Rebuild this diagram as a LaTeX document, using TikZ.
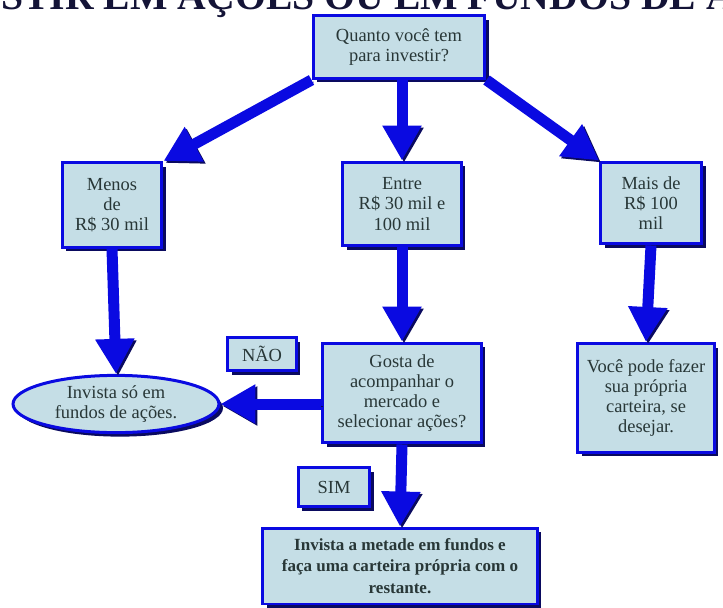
\documentclass[tikz,border=0pt]{standalone}
\usepackage{fontspec}
\setmainfont{Liberation Serif}
\usepackage{tikz}
\usetikzlibrary{arrows.meta,positioning,calc,shapes.geometric,shadows}
\definecolor{flblue}{RGB}{10,10,225}
\definecolor{flnavy}{RGB}{10,10,95}
\definecolor{flfill}{RGB}{197,222,230}
\definecolor{fltext}{RGB}{40,55,55}
\definecolor{fltitle}{RGB}{20,20,55}

\begin{document}
\begin{tikzpicture}[x=0.02cm,y=-0.02cm,
  box/.style={draw=flblue,line width=.06cm,fill=flfill,text=fltext,align=center,
    inner sep=1pt,font=\fontsize{10.5}{11.5}\selectfont,
    drop shadow={shadow xshift=.08cm,shadow yshift=-.08cm,fill=flnavy,opacity=1}},
  arr/.style={line width=.22cm,draw=flblue,-{Triangle[width=.74cm,length=.7cm]},
    preaction={draw=flnavy,transform canvas={shift={(.04cm,-.04cm)}}}}]
\useasboundingbox (0,0) rectangle (723,608);
\clip (0,0) rectangle (723,608);
\fill[white] (0,0) rectangle (723,608);
% title, cut off at the top
\node[anchor=base west,inner sep=0,text=fltitle,font=\fontsize{22.6}{22}\selectfont\bfseries] (title) at (1,10) {STIR EM AÇÕES OU EM FUNDOS DE A};
% boxes
\node[box,minimum width=3.44cm,minimum height=1.26cm] (top) at (399,47) {Quanto você tem\\para investir?};
\node[box,minimum width=2cm,minimum height=1.7cm] (menos) at (112,205) {Menos\\de\\R\$ 30 mil};
\node[box,minimum width=2.38cm,minimum height=1.68cm] (entre) at (402,204) {Entre\\R\$ 30 mil e\\100 mil};
\node[box,minimum width=2.02cm,minimum height=1.64cm] (mais) at (651,203) {Mais de\\R\$ 100\\mil};
\node[box,ellipse,minimum width=4.12cm,minimum height=1.08cm] (inv) at (116,404) {Invista só em\\fundos de ações.};
\node[box,minimum width=1.38cm,minimum height=.66cm] (nao) at (262,354) {NÃO};
\node[box,minimum width=3.18cm,minimum height=2cm] (gosta) at (402,393) {Gosta de\\acompanhar o\\mercado e\\selecionar ações?};
\node[box,minimum width=2.74cm,minimum height=2.18cm] (voce) at (646,398) {Você pode fazer\\sua própria\\carteira, se\\desejar.};
\node[box,minimum width=1.44cm,minimum height=.78cm] (sim) at (334,487) {SIM};
\node[box,minimum width=5.5cm,minimum height=1.52cm,font=\fontsize{9.7}{12.3}\selectfont\bfseries] (fim) at (400,566) {Invista a metade em fundos e\\faça uma carteira própria com o\\restante.};
% arrows
\draw[arr] (top.south west) -- (menos.north east);
\draw[arr] (top.south -| entre.north) -- (entre.north);
\draw[arr] (top.south east) -- (mais.north west);
\draw[arr] (menos.south) -- (inv.north);
\draw[arr] (entre.south) -- (gosta.north);
\draw[arr] (mais.south) -- (voce.north);
\draw[arr] (gosta.west |- inv.east) -- (inv.east);
\draw[arr] (gosta.south) -- (fim.north);
\end{tikzpicture}
\end{document}
